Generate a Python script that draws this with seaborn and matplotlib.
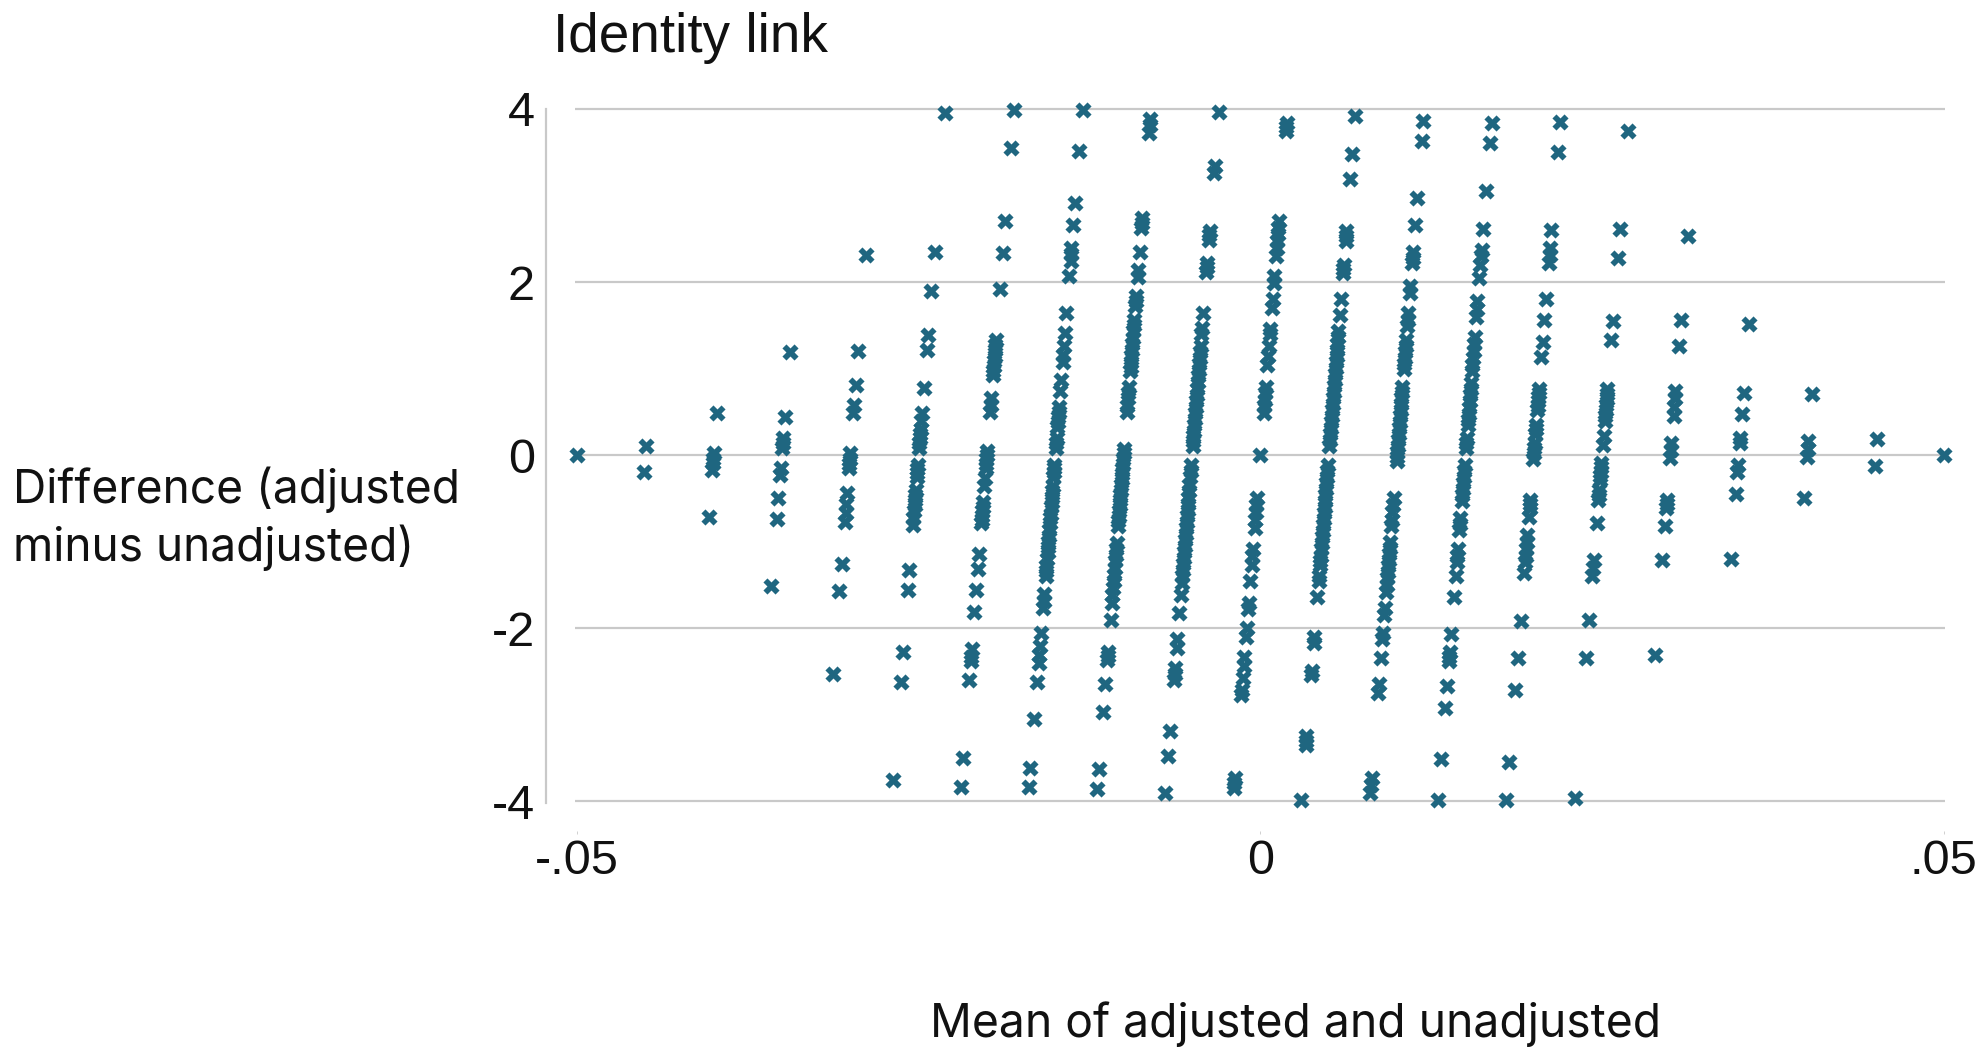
import matplotlib
matplotlib.use("Agg")
import matplotlib.pyplot as plt
import pandas as pd
import seaborn as sns

title_text = "Identity link"
xlabel_text = "Mean of adjusted and unadjusted"
ylabel_text = "Difference (adjusted\nminus unadjusted)"
x_ticks = [-0.05, 0, 0.05]
x_tick_labels = ["-.05", "0", ".05"]
y_ticks = [-4, -2, 0, 2, 4]
y_tick_labels = ["-4", "-2", "0", "2", "4"]

c01_x = [-0.05]
c01_y = [0.00]
c02_x = [-0.04495, -0.04510]
c02_y = [0.11, -0.19]
c03_x = [-0.03976, -0.03999, -0.04003, -0.04005, -0.04009, -0.04036]
c03_y = [0.49, 0.02, -0.05, -0.09, -0.17, -0.72]
c04_x = [-0.03441, -0.03478, -0.03490, -0.03493, -0.03496, -0.03508, -0.03512, -0.03525, -0.03537, -0.03576]
c04_y = [1.19, 0.44, 0.20, 0.14, 0.08, -0.15, -0.23, -0.49, -0.74, -1.51]
c05_x = [-0.02885, -0.02940, -0.02960, -0.02971, -0.02976, -0.02999, -0.03003, -0.03005, -0.03008, -0.03022, -0.03029, -0.03034, -0.03039, -0.03063, -0.03079, -0.03127]
c05_y = [2.31, 1.20, 0.81, 0.58, 0.49, 0.02, -0.05, -0.10, -0.15, -0.44, -0.57, -0.67, -0.77, -1.26, -1.57, -2.53]
c06_x = [-0.02303, -0.02383, -0.02405, -0.02431, -0.02439, -0.02461, -0.02476, -0.02481, -0.02485, -0.02488, -0.02490, -0.02493, -0.02496, -0.02506, -0.02508, -0.02511, -0.02513, -0.02520, -0.02523, -0.02526, -0.02529, -0.02533, -0.02537, -0.02541, -0.02567, -0.02578, -0.02614, -0.02631, -0.02688]
c06_y = [3.95, 2.35, 1.90, 1.39, 1.22, 0.78, 0.49, 0.39, 0.30, 0.25, 0.20, 0.14, 0.08, -0.11, -0.16, -0.21, -0.25, -0.40, -0.46, -0.52, -0.58, -0.65, -0.73, -0.81, -1.33, -1.56, -2.28, -2.62, -3.75]
c07_x = [-0.01800, -0.01823, -0.01865, -0.01883, -0.01904, -0.01934, -0.01937, -0.01940, -0.01943, -0.01946, -0.01949, -0.01952, -0.01954, -0.01967, -0.01971, -0.01975, -0.01998, -0.02000, -0.02003, -0.02005, -0.02008, -0.02014, -0.02018, -0.02027, -0.02030, -0.02033, -0.02035, -0.02038, -0.02040, -0.02057, -0.02066, -0.02078, -0.02091, -0.02112, -0.02117, -0.02119, -0.02130, -0.02175, -0.02192]
c07_y = [3.99, 3.55, 2.71, 2.34, 1.92, 1.33, 1.27, 1.21, 1.15, 1.09, 1.03, 0.97, 0.93, 0.66, 0.58, 0.50, 0.05, 0.00, -0.05, -0.10, -0.15, -0.27, -0.36, -0.54, -0.60, -0.65, -0.70, -0.75, -0.79, -1.14, -1.32, -1.56, -1.81, -2.24, -2.33, -2.38, -2.60, -3.50, -3.84]
c08_x = [-0.01300, -0.01325, -0.01355, -0.01367, -0.01381, -0.01384, -0.01388, -0.01397, -0.01418, -0.01430, -0.01437, -0.01442, -0.01446, -0.01457, -0.01463, -0.01472, -0.01475, -0.01478, -0.01481, -0.01484, -0.01490, -0.01493, -0.01496, -0.01506, -0.01508, -0.01510, -0.01513, -0.01518, -0.01521, -0.01524, -0.01527, -0.01530, -0.01534, -0.01537, -0.01539, -0.01543, -0.01547, -0.01550, -0.01553, -0.01556, -0.01560, -0.01564, -0.01567, -0.01570, -0.01580, -0.01584, -0.01589, -0.01603, -0.01611, -0.01616, -0.01620, -0.01631, -0.01653, -0.01681, -0.01692]
c08_y = [3.99, 3.51, 2.91, 2.66, 2.39, 2.32, 2.24, 2.07, 1.64, 1.41, 1.26, 1.16, 1.08, 0.87, 0.74, 0.56, 0.50, 0.44, 0.38, 0.32, 0.20, 0.14, 0.08, -0.11, -0.15, -0.19, -0.25, -0.36, -0.42, -0.48, -0.54, -0.60, -0.68, -0.73, -0.78, -0.86, -0.94, -1.00, -1.06, -1.12, -1.20, -1.28, -1.34, -1.40, -1.60, -1.68, -1.77, -2.06, -2.21, -2.31, -2.40, -2.62, -3.05, -3.62, -3.84]
c09_x = [-0.00806, -0.00810, -0.00814, -0.00863, -0.00866, -0.00869, -0.00883, -0.00893, -0.00897, -0.00908, -0.00911, -0.00914, -0.00922, -0.00925, -0.00928, -0.00933, -0.00936, -0.00939, -0.00943, -0.00946, -0.00949, -0.00952, -0.00961, -0.00964, -0.00967, -0.00972, -0.00975, -0.00997, -0.00999, -0.01002, -0.01005, -0.01008, -0.01011, -0.01014, -0.01017, -0.01020, -0.01023, -0.01026, -0.01029, -0.01032, -0.01035, -0.01038, -0.01041, -0.01051, -0.01054, -0.01058, -0.01061, -0.01065, -0.01069, -0.01073, -0.01077, -0.01081, -0.01086, -0.01095, -0.01114, -0.01116, -0.01119, -0.01133, -0.01149, -0.01182, -0.01193]
c09_y = [3.88, 3.81, 3.72, 2.74, 2.68, 2.62, 2.35, 2.14, 2.06, 1.84, 1.78, 1.72, 1.56, 1.50, 1.44, 1.35, 1.28, 1.22, 1.15, 1.08, 1.02, 0.97, 0.79, 0.72, 0.66, 0.57, 0.50, 0.07, 0.02, -0.04, -0.10, -0.16, -0.22, -0.28, -0.34, -0.40, -0.46, -0.52, -0.58, -0.64, -0.70, -0.76, -0.82, -1.02, -1.08, -1.15, -1.22, -1.30, -1.38, -1.46, -1.54, -1.62, -1.71, -1.90, -2.27, -2.32, -2.37, -2.65, -2.97, -3.63, -3.86]
c10_x = [-0.00301, -0.00333, -0.00337, -0.00371, -0.00373, -0.00376, -0.00389, -0.00392, -0.00394, -0.00418, -0.00427, -0.00430, -0.00437, -0.00441, -0.00444, -0.00448, -0.00451, -0.00455, -0.00458, -0.00462, -0.00465, -0.00469, -0.00472, -0.00476, -0.00479, -0.00483, -0.00486, -0.00489, -0.00492, -0.00495, -0.00506, -0.00509, -0.00513, -0.00518, -0.00521, -0.00525, -0.00528, -0.00532, -0.00535, -0.00539, -0.00542, -0.00546, -0.00549, -0.00553, -0.00556, -0.00560, -0.00563, -0.00567, -0.00570, -0.00574, -0.00581, -0.00591, -0.00606, -0.00612, -0.00623, -0.00627, -0.00630, -0.00660, -0.00674, -0.00696]
c10_y = [3.97, 3.34, 3.26, 2.59, 2.54, 2.49, 2.22, 2.17, 2.12, 1.64, 1.47, 1.40, 1.26, 1.19, 1.12, 1.05, 0.98, 0.91, 0.84, 0.77, 0.70, 0.63, 0.56, 0.49, 0.42, 0.35, 0.28, 0.22, 0.16, 0.10, -0.11, -0.18, -0.25, -0.35, -0.42, -0.49, -0.56, -0.63, -0.70, -0.77, -0.84, -0.91, -0.98, -1.05, -1.12, -1.19, -1.26, -1.33, -1.40, -1.48, -1.62, -1.82, -2.12, -2.23, -2.46, -2.53, -2.60, -3.19, -3.48, -3.91]
c11_x = [0.00192, 0.00190, 0.00187, 0.00135, 0.00131, 0.00128, 0.00124, 0.00120, 0.00115, 0.00104, 0.00100, 0.00090, 0.00085, 0.00073, 0.00070, 0.00063, 0.00057, 0.00052, 0.00040, 0.00036, 0.00032, 0.00029, 0.00025, 0.0, -0.00025, -0.00029, -0.00033, -0.00038, -0.00042, -0.00054, -0.00059, -0.00064, -0.00073, -0.00086, -0.00089, -0.00100, -0.00105, -0.00117, -0.00122, -0.00129, -0.00136, -0.00139, -0.00187, -0.00190, -0.00193]
c11_y = [3.84, 3.79, 3.74, 2.70, 2.62, 2.55, 2.47, 2.39, 2.30, 2.07, 1.99, 1.80, 1.70, 1.46, 1.40, 1.26, 1.14, 1.04, 0.79, 0.72, 0.64, 0.57, 0.49, 0.00, -0.50, -0.58, -0.66, -0.75, -0.84, -1.08, -1.17, -1.27, -1.46, -1.71, -1.78, -2.00, -2.10, -2.33, -2.44, -2.58, -2.71, -2.77, -3.73, -3.79, -3.85]
c12_x = [0.00696, 0.00674, 0.00660, 0.00630, 0.00627, 0.00624, 0.00610, 0.00608, 0.00605, 0.00591, 0.00581, 0.00572, 0.00568, 0.00565, 0.00561, 0.00558, 0.00554, 0.00551, 0.00547, 0.00544, 0.00540, 0.00537, 0.00533, 0.00530, 0.00526, 0.00523, 0.00519, 0.00516, 0.00512, 0.00509, 0.00505, 0.00495, 0.00491, 0.00488, 0.00484, 0.00481, 0.00477, 0.00474, 0.00470, 0.00467, 0.00463, 0.00460, 0.00456, 0.00453, 0.00449, 0.00446, 0.00442, 0.00439, 0.00437, 0.00430, 0.00427, 0.00418, 0.00395, 0.00392, 0.00375, 0.00373, 0.00338, 0.00335, 0.00333, 0.00301]
c12_y = [3.92, 3.48, 3.19, 2.59, 2.53, 2.47, 2.20, 2.15, 2.10, 1.81, 1.62, 1.43, 1.36, 1.29, 1.22, 1.15, 1.08, 1.01, 0.94, 0.87, 0.80, 0.73, 0.66, 0.59, 0.52, 0.45, 0.38, 0.31, 0.24, 0.17, 0.10, -0.11, -0.18, -0.25, -0.32, -0.39, -0.46, -0.53, -0.60, -0.67, -0.74, -0.81, -0.88, -0.95, -1.02, -1.09, -1.16, -1.22, -1.27, -1.40, -1.46, -1.64, -2.10, -2.17, -2.50, -2.54, -3.25, -3.30, -3.35, -3.98]
c13_x = [0.01193, 0.01182, 0.01149, 0.01133, 0.01118, 0.01114, 0.01111, 0.01098, 0.01094, 0.01082, 0.01078, 0.01075, 0.01067, 0.01063, 0.01060, 0.01056, 0.01053, 0.01050, 0.01040, 0.01037, 0.01033, 0.01030, 0.01026, 0.01023, 0.01019, 0.01016, 0.01012, 0.01009, 0.01005, 0.01002, 0.00999, 0.00997, 0.00975, 0.00971, 0.00967, 0.00963, 0.00959, 0.00950, 0.00947, 0.00943, 0.00940, 0.00936, 0.00933, 0.00929, 0.00925, 0.00921, 0.00912, 0.00908, 0.00898, 0.00894, 0.00883, 0.00868, 0.00863, 0.00814, 0.00810, 0.00805]
c13_y = [3.86, 3.63, 2.97, 2.66, 2.35, 2.28, 2.22, 1.95, 1.87, 1.64, 1.56, 1.49, 1.33, 1.26, 1.19, 1.12, 1.05, 0.99, 0.79, 0.73, 0.66, 0.59, 0.52, 0.45, 0.38, 0.31, 0.24, 0.17, 0.10, 0.04, -0.02, -0.07, -0.50, -0.58, -0.66, -0.75, -0.82, -1.00, -1.07, -1.14, -1.21, -1.28, -1.35, -1.42, -1.50, -1.58, -1.77, -1.85, -2.05, -2.13, -2.35, -2.64, -2.75, -3.73, -3.81, -3.91]
c14_x = [0.01692, 0.01681, 0.01653, 0.01631, 0.01619, 0.01615, 0.01610, 0.01603, 0.01589, 0.01585, 0.01580, 0.01569, 0.01564, 0.01560, 0.01556, 0.01552, 0.01549, 0.01542, 0.01538, 0.01535, 0.01531, 0.01528, 0.01524, 0.01521, 0.01518, 0.01510, 0.01507, 0.01504, 0.01495, 0.01491, 0.01488, 0.01484, 0.01481, 0.01477, 0.01474, 0.01464, 0.01460, 0.01457, 0.01446, 0.01442, 0.01439, 0.01430, 0.01418, 0.01397, 0.01387, 0.01384, 0.01381, 0.01367, 0.01354, 0.01325, 0.01301]
c14_y = [3.84, 3.61, 3.05, 2.61, 2.37, 2.30, 2.20, 2.05, 1.78, 1.69, 1.60, 1.37, 1.28, 1.20, 1.12, 1.04, 0.97, 0.83, 0.76, 0.69, 0.62, 0.55, 0.48, 0.41, 0.35, 0.20, 0.14, 0.08, -0.11, -0.18, -0.25, -0.32, -0.39, -0.46, -0.53, -0.73, -0.80, -0.86, -1.09, -1.16, -1.23, -1.40, -1.64, -2.07, -2.27, -2.33, -2.38, -2.67, -2.92, -3.51, -3.99]
c15_x = [0.02193, 0.02175, 0.02130, 0.02120, 0.02116, 0.02111, 0.02090, 0.02078, 0.02066, 0.02057, 0.02039, 0.02036, 0.02034, 0.02031, 0.02029, 0.02026, 0.02018, 0.02015, 0.02013, 0.02007, 0.02004, 0.02001, 0.01998, 0.01974, 0.01972, 0.01970, 0.01965, 0.01954, 0.01950, 0.01946, 0.01942, 0.01938, 0.01932, 0.01904, 0.01883, 0.01865, 0.01823, 0.01801]
c15_y = [3.85, 3.50, 2.60, 2.39, 2.31, 2.22, 1.80, 1.56, 1.31, 1.13, 0.77, 0.72, 0.67, 0.62, 0.57, 0.52, 0.35, 0.30, 0.25, 0.14, 0.08, 0.02, -0.05, -0.52, -0.57, -0.61, -0.71, -0.92, -1.00, -1.08, -1.16, -1.24, -1.36, -1.92, -2.35, -2.71, -3.55, -3.99]
c16_x = [0.02687, 0.02631, 0.02614, 0.02578, 0.02567, 0.02539, 0.02536, 0.02533, 0.02529, 0.02526, 0.02523, 0.02520, 0.02511, 0.02506, 0.02496, 0.02493, 0.02491, 0.02488, 0.02486, 0.02480, 0.02477, 0.02474, 0.02461, 0.02440, 0.02435, 0.02430, 0.02405, 0.02383, 0.02302]
c16_y = [3.74, 2.61, 2.28, 1.55, 1.33, 0.77, 0.71, 0.65, 0.58, 0.52, 0.45, 0.39, 0.22, 0.12, -0.09, -0.14, -0.19, -0.24, -0.29, -0.40, -0.46, -0.52, -0.78, -1.21, -1.31, -1.40, -1.91, -2.35, -3.96]
c17_x = [0.03127, 0.03078, 0.03063, 0.03037, 0.03033, 0.03028, 0.03023, 0.03007, 0.03003, 0.02999, 0.02974, 0.02972, 0.02970, 0.02959, 0.02940, 0.02885]
c17_y = [2.53, 1.56, 1.26, 0.74, 0.66, 0.56, 0.45, 0.14, 0.06, -0.03, -0.52, -0.56, -0.61, -0.82, -1.21, -2.31]
c18_x = [0.03576, 0.03536, 0.03524, 0.03510, 0.03507, 0.03495, 0.03491, 0.03478, 0.03440]
c18_y = [1.51, 0.72, 0.48, 0.20, 0.14, -0.11, -0.19, -0.45, -1.20]
c19_x = [0.04036, 0.04008, 0.04004, 0.03999, 0.03975]
c19_y = [0.71, 0.16, 0.07, -0.02, -0.50]
c20_x = [0.04510, 0.04494]
c20_y = [0.19, -0.12]
c21_x = [0.05]
c21_y = [0.00]

xs = (c01_x + c02_x + c03_x + c04_x + c05_x + c06_x + c07_x + c08_x + c09_x + c10_x + c11_x
      + c12_x + c13_x + c14_x + c15_x + c16_x + c17_x + c18_x + c19_x + c20_x + c21_x)
ys = (c01_y + c02_y + c03_y + c04_y + c05_y + c06_y + c07_y + c08_y + c09_y + c10_y + c11_y
      + c12_y + c13_y + c14_y + c15_y + c16_y + c17_y + c18_y + c19_y + c20_y + c21_y)
df = pd.DataFrame({"mean": xs, "difference": ys})

sns.set_style("white")
plt.rcParams["font.family"] = ["Liberation Sans", "DejaVu Sans"]
W, H = 1988, 1048
fig = plt.figure(figsize=(W / 100, H / 100), dpi=100, facecolor="white")
L, R, T, B = 546, 1945, 109, 803
ax = fig.add_axes([L / W, 1 - B / H, (R - L) / W, (B - T) / H])

GRID = "#c9c9c9"
ax.hlines(y_ticks, -0.0501, 0.0501, color=GRID, linewidth=1.6, zorder=1, clip_on=False)
sns.scatterplot(data=df, x="mean", y="difference", marker="X", s=135, color="#1f6680",
                linewidth=0, clip_on=False, zorder=3, ax=ax)

ax.set_xlim(-0.05225, 0.05009)
ax.set_ylim(-4.02, 4)
for side in ("top", "right"):
    ax.spines[side].set_visible(False)
ax.spines["left"].set_color(GRID)
ax.spines["left"].set_linewidth(1.6)
ax.spines["bottom"].set_visible(False)
ax.spines["bottom"].set_position(("outward", 20.5))

ax.set_xticks(x_ticks, x_tick_labels, fontsize=35)
ax.set_yticks(y_ticks, y_tick_labels, fontsize=35)
ax.tick_params(axis="x", length=2.5, width=0.7, color="#d0d0d0", pad=3, labelcolor="#111111", bottom=True)
ax.tick_params(axis="y", length=0, pad=8, labelcolor="#111111")

ax.set_title(title_text, loc="left", x=0.005, y=1.082, pad=0, fontsize=39.5, color="#111111")
ax.set_xlabel(xlabel_text, fontsize=33.3, family=["Inter", "DejaVu Sans"], color="#111111", va="baseline", ha="center")
ax.xaxis.set_label_coords(0.5358, -0.337)
ax.set_ylabel(ylabel_text, fontsize=33.2, family=["Inter", "DejaVu Sans"], color="#111111", rotation=0,
              ha="left", va="center", multialignment="left", linespacing=1.32)
ax.yaxis.set_label_coords(-0.381, 0.41)

fig.savefig("out.png", dpi=100, facecolor="white")
